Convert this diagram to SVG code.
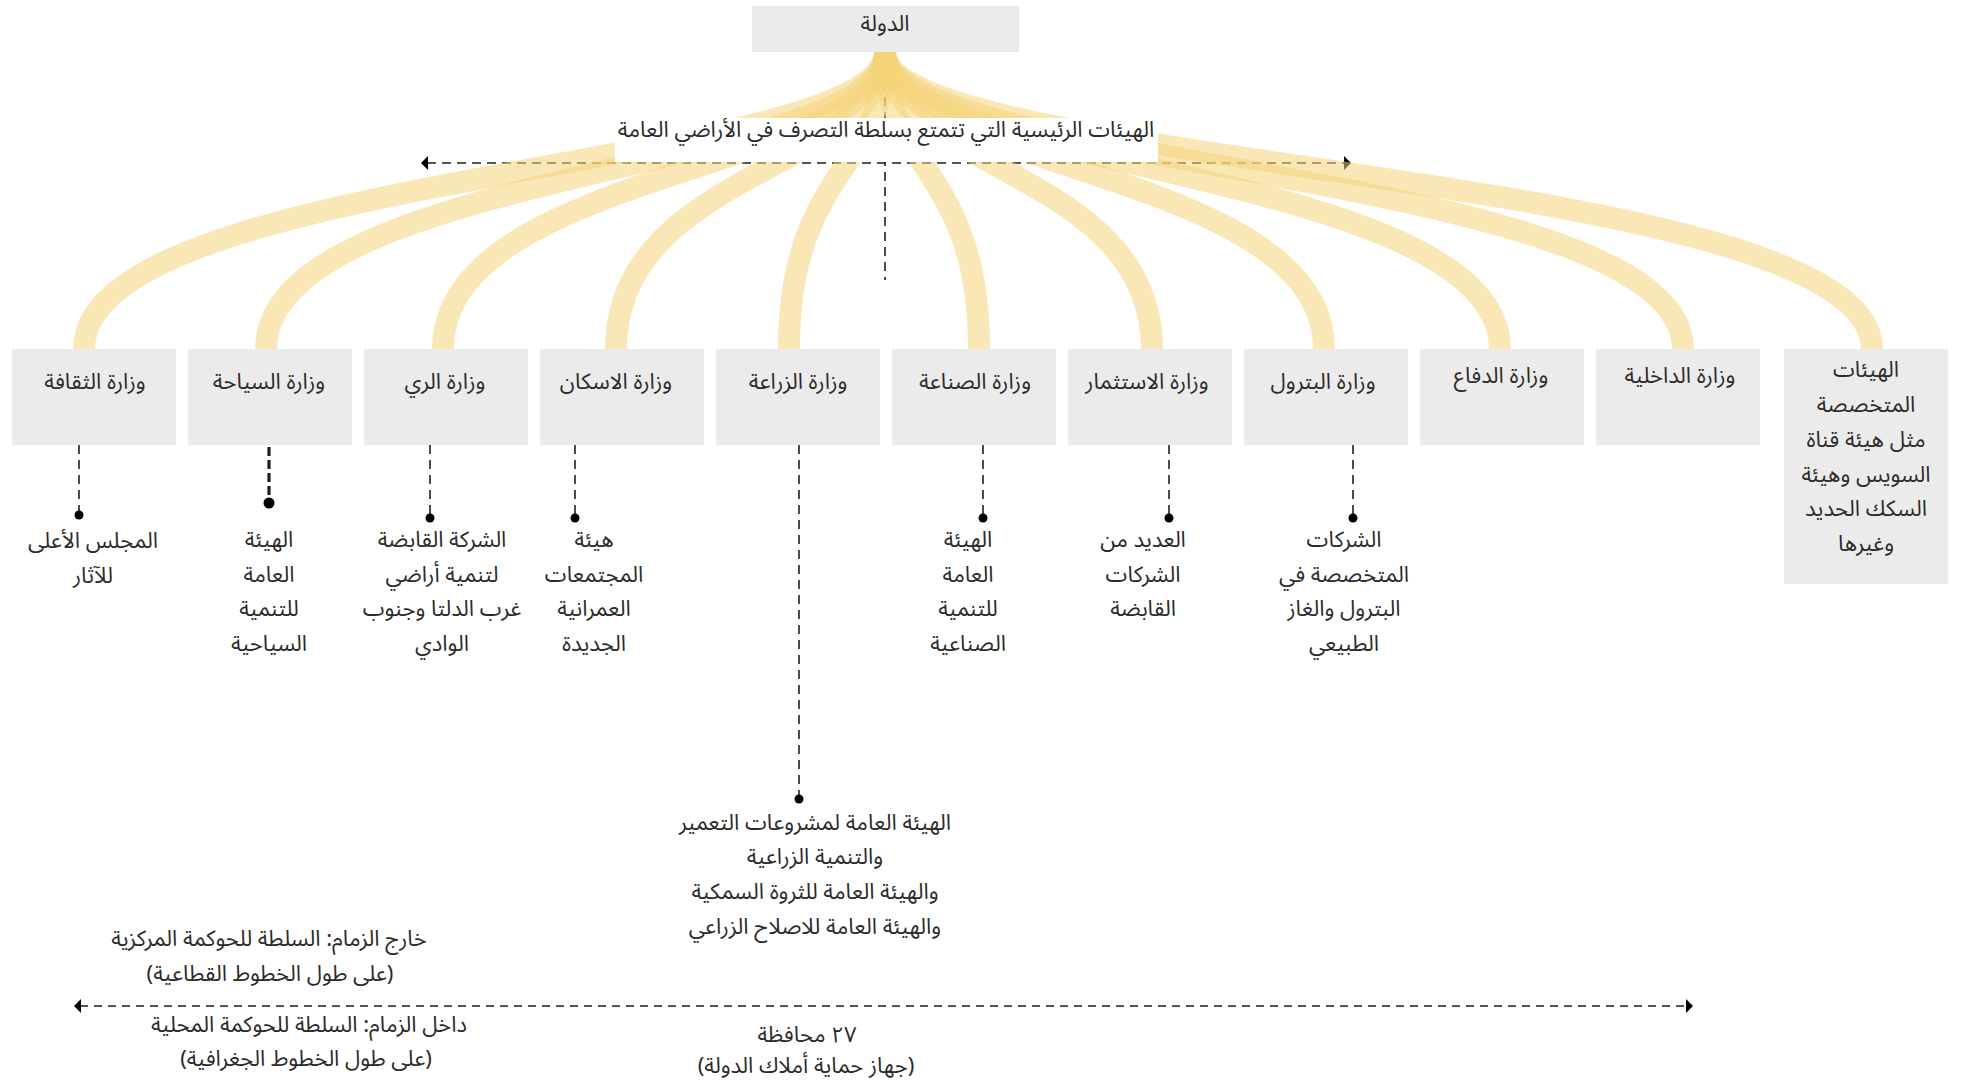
<svg xmlns="http://www.w3.org/2000/svg" width="1961" height="1086" viewBox="0 0 1961 1086">
<style>
text{font-family:"Noto Sans Arabic","Noto Sans","DejaVu Sans",sans-serif;font-size:22px;fill:#2b2b2b;text-anchor:middle;dominant-baseline:central;direction:rtl}
.box{fill:#ebebeb}
.rib{fill:none;stroke:#f4d478;stroke-opacity:0.55;stroke-width:22}
.dash{fill:none;stroke:#1e1e1e;stroke-width:1.6;stroke-dasharray:9 6}
.dashb{fill:none;stroke:#1e1e1e;stroke-width:3.2;stroke-dasharray:9 4}
.dashg{fill:none;stroke:#555;stroke-width:2.2;stroke-dasharray:8 6}
.dot{fill:#000}
</style>
<defs>
<marker id="arr" viewBox="0 0 8 14" refX="1" refY="7" markerWidth="8" markerHeight="14" markerUnits="userSpaceOnUse" orient="auto-start-reverse">
<path d="M0,0 L7,7 L0,14 Z" fill="#000"/>
</marker>
</defs>
<rect width="1961" height="1086" fill="#fff"/>
<g id="connectors">
<path class="dash" d="M885 52 V280"/>
<path class="dash" d="M427 163 H1345" marker-start="url(#arr)" marker-end="url(#arr)"/>
<g id="ribbons">
<path class="rib" d="M885 52 C885 170 84 170 84 349"/>
<path class="rib" d="M885 52 C885 170 266 170 266 349"/>
<path class="rib" d="M885 52 C885 170 443 170 443 349"/>
<path class="rib" d="M885 52 C885 170 616 170 616 349"/>
<path class="rib" d="M885 52 C885 170 789 170 789 349"/>
<path class="rib" d="M885 52 C885 170 979 170 979 349"/>
<path class="rib" d="M885 52 C885 170 1152 170 1152 349"/>
<path class="rib" d="M885 52 C885 170 1324 170 1324 349"/>
<path class="rib" d="M885 52 C885 170 1500 170 1500 349"/>
<path class="rib" d="M885 52 C885 170 1683 170 1683 349"/>
<path class="rib" d="M885 52 C885 170 1872 170 1872 349"/>
</g>
<path class="dash" d="M79 445 V515"/>
<path class="dashb" d="M269 447 V503"/>
<path class="dash" d="M430 445 V518"/>
<path class="dash" d="M575 445 V518"/>
<path class="dash" d="M799 445 V799"/>
<path class="dash" d="M983 445 V518"/>
<path class="dash" d="M1169 445 V518"/>
<path class="dash" d="M1353 445 V518"/>
<circle class="dot" cx="79" cy="515" r="4.5"/>
<circle class="dot" cx="269" cy="503" r="5.5"/>
<circle class="dot" cx="430" cy="518" r="4.5"/>
<circle class="dot" cx="575" cy="518" r="4.5"/>
<circle class="dot" cx="799" cy="799" r="4.5"/>
<circle class="dot" cx="983" cy="518" r="4.5"/>
<circle class="dot" cx="1169" cy="518" r="4.5"/>
<circle class="dot" cx="1353" cy="518" r="4.5"/>
<path class="dashg" d="M80 1006 H1687" marker-start="url(#arr)" marker-end="url(#arr)"/>
</g>
<g id="label-main">
<rect x="615" y="118" width="543" height="44" fill="#fff"/>
<text x="886" y="130">الهيئات الرئيسية التي تتمتع بسلطة التصرف في الأراضي العامة</text>
</g>
<g id="node-state">
<rect class="box" x="752" y="6" width="267" height="46"/>
<text x="885" y="24">الدولة</text>
</g>
<g id="node-culture">
<rect class="box" x="12" y="349" width="164" height="96"/>
<text x="95" y="382">وزارة الثقافة</text>
</g>
<g id="node-tourism">
<rect class="box" x="188" y="349" width="164" height="96"/>
<text x="269" y="382">وزارة السياحة</text>
</g>
<g id="node-irrigation">
<rect class="box" x="364" y="349" width="164" height="96"/>
<text x="445" y="382">وزارة الري</text>
</g>
<g id="node-housing">
<rect class="box" x="540" y="349" width="164" height="96"/>
<text x="616" y="382">وزارة الاسكان</text>
</g>
<g id="node-agriculture">
<rect class="box" x="716" y="349" width="164" height="96"/>
<text x="798" y="382">وزارة الزراعة</text>
</g>
<g id="node-industry">
<rect class="box" x="892" y="349" width="164" height="96"/>
<text x="975" y="382">وزارة الصناعة</text>
</g>
<g id="node-investment">
<rect class="box" x="1068" y="349" width="164" height="96"/>
<text x="1147" y="382">وزارة الاستثمار</text>
</g>
<g id="node-petroleum">
<rect class="box" x="1244" y="349" width="164" height="96"/>
<text x="1323" y="382">وزارة البترول</text>
</g>
<g id="node-defense">
<rect class="box" x="1420" y="349" width="164" height="96"/>
<text x="1501" y="376">وزارة الدفاع</text>
</g>
<g id="node-interior">
<rect class="box" x="1596" y="349" width="164" height="96"/>
<text x="1680" y="376">وزارة الداخلية</text>
</g>
<g id="node-specialized">
<rect class="box" x="1784" y="349" width="164" height="235"/>
<text x="1866" y="370">الهيئات</text>
<text x="1866" y="405">المتخصصة</text>
<text x="1866" y="440">مثل هيئة قناة</text>
<text x="1866" y="475">السويس وهيئة</text>
<text x="1866" y="509">السكك الحديد</text>
<text x="1866" y="544">وغيرها</text>
</g>
<g id="sub-culture">
<text x="93" y="541">المجلس الأعلى</text>
<text x="93" y="576">للآثار</text>
</g>
<g id="sub-tourism">
<text x="269" y="540">الهيئة</text>
<text x="269" y="575">العامة</text>
<text x="269" y="609">للتنمية</text>
<text x="269" y="644">السياحية</text>
</g>
<g id="sub-irrigation">
<text x="442" y="540">الشركة القابضة</text>
<text x="442" y="575">لتنمية أراضي</text>
<text x="442" y="609">غرب الدلتا وجنوب</text>
<text x="442" y="644">الوادي</text>
</g>
<g id="sub-housing">
<text x="594" y="540">هيئة</text>
<text x="594" y="575">المجتمعات</text>
<text x="594" y="609">العمرانية</text>
<text x="594" y="644">الجديدة</text>
</g>
<g id="sub-agriculture">
<text x="815" y="823">الهيئة العامة لمشروعات التعمير</text>
<text x="815" y="857">والتنمية الزراعية</text>
<text x="815" y="892">والهيئة العامة للثروة السمكية</text>
<text x="815" y="927">والهيئة العامة للاصلاح الزراعي</text>
</g>
<g id="sub-industry">
<text x="968" y="540">الهيئة</text>
<text x="968" y="575">العامة</text>
<text x="968" y="609">للتنمية</text>
<text x="968" y="644">الصناعية</text>
</g>
<g id="sub-investment">
<text x="1143" y="540">العديد من</text>
<text x="1143" y="575">الشركات</text>
<text x="1143" y="609">القابضة</text>
</g>
<g id="sub-petroleum">
<text x="1344" y="540">الشركات</text>
<text x="1344" y="575">المتخصصة في</text>
<text x="1344" y="609">البترول والغاز</text>
<text x="1344" y="644">الطبيعي</text>
</g>
<g id="legend">
<text x="269" y="939">خارج الزمام: السلطة للحوكمة المركزية</text>
<text x="270" y="974">(على طول الخطوط القطاعية)</text>
<text x="309" y="1025">داخل الزمام: السلطة للحوكمة المحلية</text>
<text x="306" y="1059">(على طول الخطوط الجغرافية)</text>
<text x="807" y="1035">٢٧ محافظة</text>
<text x="806" y="1066">(جهاز حماية أملاك الدولة)</text>
</g>
</svg>
